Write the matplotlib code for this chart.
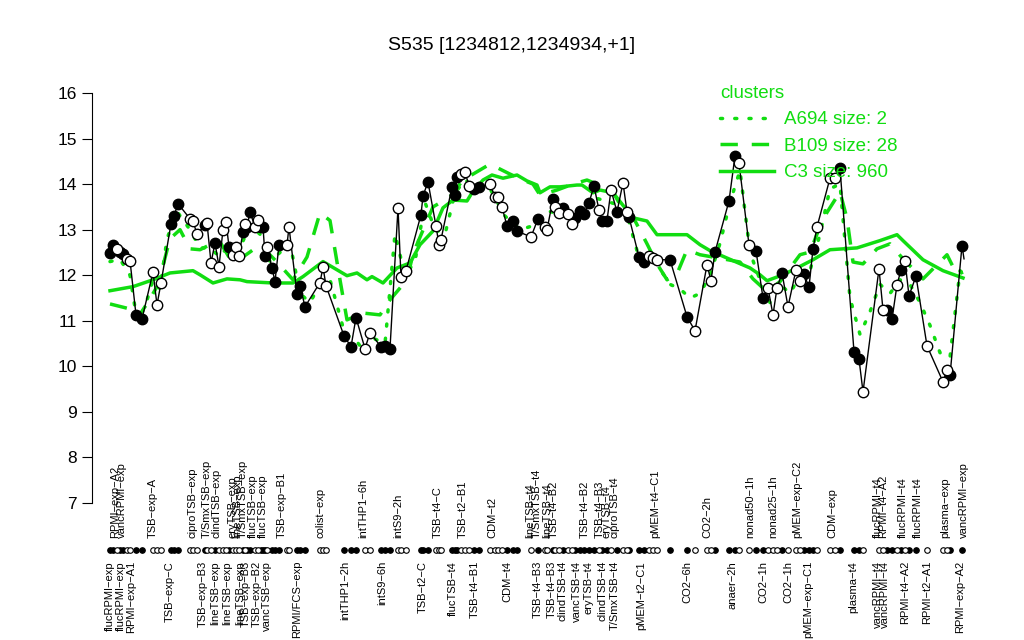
import matplotlib
matplotlib.use("Agg")
import matplotlib.pyplot as plt
from matplotlib.lines import Line2D

plt.rcParams['font.family'] = ['Liberation Sans', 'DejaVu Sans']

title = "S535 [1234812,1234934,+1]"
green = '#11dd11'

# sample positions along the x axis, expression values and whether the sample is filled
pos = [110, 113, 117, 120, 123, 127, 130, 136, 142, 153, 157, 161, 171, 174, 178, 190, 193, 197,
       205, 207, 211, 215, 219, 223, 226, 229, 233, 236, 239, 243, 245, 247, 250, 255, 258, 261,
       263, 265, 267, 272, 275, 279, 287, 289, 297, 300, 305, 320, 323, 326, 344, 351, 356, 365,
       370, 381, 385, 390, 398, 401, 406, 421, 423, 428, 436, 439, 441, 452, 455, 457, 461, 465,
       469, 474, 479, 490, 495, 498, 502, 507, 513, 517, 531, 538, 545, 547, 553, 555, 559, 563,
       568, 572, 575, 580, 584, 589, 594, 599, 602, 607, 611, 617, 623, 627, 629, 639, 644, 649,
       653, 657, 670, 687, 695, 707, 711, 715, 729, 735, 739, 749, 756, 763, 768, 773, 777, 782,
       788, 796, 800, 804, 809, 813, 817, 830, 835, 840, 854, 859, 863, 879, 883, 887, 892, 897,
       901, 905, 909, 916, 927, 943, 947, 950, 962, 964]
expr = [12.49, 12.67, 12.58, 12.50, 12.47, 12.36, 12.32, 11.13, 11.04, 12.07, 11.35, 11.83, 13.13,
        13.30, 13.57, 13.24, 13.19, 12.90, 13.10, 13.15, 12.27, 12.71, 12.19, 13.00, 13.17, 12.63,
        12.45, 12.63, 12.43, 12.95, 13.13, 13.06, 13.39, 13.06, 13.21, 13.06, 13.06, 12.43, 12.63,
        12.16, 11.86, 12.67, 12.67, 13.06, 11.59, 11.77, 11.31, 11.84, 12.18, 11.77, 10.67, 10.43,
        11.07, 10.39, 10.74, 10.43, 10.45, 10.39, 13.48, 11.96, 12.10, 13.33, 13.74, 14.05, 13.08,
        12.67, 12.78, 13.94, 13.76, 14.16, 14.22, 14.27, 13.96, 13.90, 13.94, 14.00, 13.72, 13.72,
        13.50, 13.08, 13.19, 12.97, 12.84, 13.24, 13.06, 13.00, 13.67, 13.50, 13.37, 13.48, 13.35,
        13.13, 13.26, 13.40, 13.35, 13.59, 13.96, 13.43, 13.20, 13.20, 13.87, 13.39, 14.03, 13.39,
        13.28, 12.40, 12.30, 12.43, 12.38, 12.34, 12.34, 11.09, 10.78, 12.23, 11.88, 12.51, 13.63,
        14.62, 14.46, 12.67, 12.54, 11.50, 11.72, 11.13, 11.72, 12.05, 11.31, 12.12, 11.88, 12.02,
        11.74, 12.58, 13.06, 14.13, 14.13, 14.35, 10.32, 10.16, 9.44, 12.14, 11.24, 11.24, 11.03,
        11.79, 12.12, 12.31, 11.55, 11.98, 10.45, 9.66, 9.92, 9.80, 12.65, 12.36]
filled = "FFOFFOOFFOOOFFFOOOFOOFOOOFOOOFOFFOOFFFOFFFOOFFFOOOFFFOOFFFOOOFFFOOOFFFOOOFFOOOOFFFOFOOFOOFOOFFFFFOFFOFOOFFFOOOFFOOOFFFOOFFOOOFOOOFFFOOOFFFOOOFFOFOFFOOOFF"

# cluster profiles
a694_x = [110, 120, 130, 137, 145, 153, 160, 167, 177, 190, 200, 210, 220, 230, 240, 250, 260, 270,
          280, 290, 300, 310, 320, 330, 345, 355, 365, 375, 385, 395, 405, 415, 425, 435, 445, 455,
          465, 475, 490, 505, 520, 535, 550, 565, 580, 595, 610, 625, 640, 655, 670, 680, 690, 700,
          710, 720, 730, 740, 750, 760, 770, 780, 790, 800, 810, 820, 830, 840, 850, 860, 870, 880,
          890, 900, 910, 920, 930, 940, 950, 960, 965]
a694_y = [12.3, 12.35, 12.0, 11.0, 11.3, 11.9, 11.7, 12.8, 13.4, 13.0, 12.6, 12.6, 12.4, 12.7, 12.6,
          13.1, 12.9, 12.3, 12.5, 12.7, 11.6, 11.4, 11.8, 11.9, 10.7, 10.6, 10.3, 10.6, 10.5, 12.9,
          12.0, 12.3, 13.6, 13.0, 12.9, 13.8, 14.1, 13.9, 13.9, 13.3, 13.0, 13.1, 13.4, 13.3, 13.3,
          13.7, 13.6, 13.5, 12.3, 12.3, 11.8, 11.7, 11.5, 11.6, 12.0, 12.7, 13.6, 14.3, 12.5, 11.9,
          11.4, 11.8, 11.6, 12.0, 12.1, 12.9, 13.9, 14.0, 11.5, 10.7, 11.2, 11.8, 11.6, 11.9, 11.8,
          11.4, 10.9, 10.3, 10.2, 12.1, 12.0]
b109_x = [110, 130, 137, 150, 158, 170, 180, 190, 200, 210, 220, 233, 250, 260, 277, 293, 307, 320,
          330, 340, 347, 363, 380, 390, 407, 413, 423, 433, 450, 463, 480, 490, 510, 523, 533, 540,
          557, 573, 587, 597, 610, 623, 633, 647, 657, 667, 677, 687, 700, 723, 740, 753, 767, 780,
          800, 810, 823, 840, 847, 853, 863, 877, 890, 903, 923, 947, 957, 963]
b109_y = [11.37, 11.26, 11.04, 11.48, 11.79, 12.80, 13.00, 12.58, 12.56, 12.67, 12.73, 12.25, 12.51,
          12.67, 12.29, 11.90, 12.40, 13.37, 13.20, 11.90, 11.02, 11.17, 11.13, 11.46, 11.90, 12.47,
          12.99, 13.50, 13.72, 14.09, 14.31, 14.44, 14.22, 14.09, 14.00, 13.76, 13.87, 14.00, 14.09,
          14.00, 13.94, 13.44, 13.28, 12.69, 12.25, 11.90, 12.03, 12.56, 12.45, 12.36, 12.29, 11.92,
          11.64, 11.86, 12.45, 12.51, 13.24, 13.83, 13.24, 12.29, 12.25, 12.58, 12.69, 12.36, 11.92,
          12.45, 12.01, 12.07]
c3_x = [110, 133, 153, 170, 193, 200, 213, 227, 240, 247, 273, 293, 303, 323, 347, 357, 367, 372,
        383, 397, 410, 420, 433, 443, 453, 467, 472, 483, 492, 503, 517, 527, 537, 540, 550, 560,
        577, 582, 593, 600, 613, 633, 647, 657, 687, 700, 710, 733, 750, 760, 767, 783, 797, 813,
        830, 857, 880, 897, 903, 923, 943, 963]
c3_y = [11.66, 11.75, 11.90, 12.05, 12.10, 12.01, 11.83, 11.92, 11.90, 11.86, 11.83, 11.83, 11.97,
        12.30, 11.99, 12.05, 11.90, 11.97, 11.83, 12.16, 12.27, 12.67, 12.97, 13.48, 13.65, 13.63,
        13.81, 14.09, 14.20, 14.13, 14.20, 14.07, 13.98, 13.81, 13.94, 13.94, 13.98, 13.98, 13.81,
        13.87, 13.81, 13.26, 13.19, 12.89, 12.89, 12.67, 12.54, 12.32, 12.16, 12.01, 11.88, 12.01,
        12.16, 12.34, 12.56, 12.60, 12.76, 12.89, 12.76, 12.34, 12.10, 11.94]

top_labels = [(115, "RPMI\u2212exp\u2212A2"), (122, "vancRPMI\u2212exp"), (153, "TSB\u2212exp\u2212A"),
              (193, "ciproTSB\u2212exp"), (207, "T/SmxTSB\u2212exp"), (217, "clindTSB\u2212exp"),
              (232, "eryTSB\u2212exp"), (237, "lineTSB\u2212exp"), (243, "T/SmxTSB\u2212exp"),
              (253, "flucTSB\u2212exp"), (263, "flucTSB\u2212exp"), (282, "TSB\u2212exp\u2212B1"),
              (320, "colist\u2212exp"), (363, "intTHP1\u22126h"), (398, "intS9\u22122h"),
              (438, "TSB\u2212t4\u2212C"), (463, "TSB\u2212t2\u2212B1"), (492, "CDM\u2212t2"),
              (530, "lineTSB\u2212t4"), (537, "T/SmxTSB\u2212t4"), (547, "lineTSB\u2212t4"),
              (554, "TSB\u2212t4\u2212B2"), (585, "TSB\u2212t4\u2212B2"), (600, "TSB\u2212t4\u2212B3"),
              (607, "eryTSB\u2212t4"), (615, "ciproTSB\u2212t4"), (655, "pMEM\u2212t4\u2212C1"),
              (707, "CO2\u22122h"), (750, "nonad50\u22121h"), (773, "nonad25\u22121h"),
              (797, "pMEM\u2212exp\u2212C2"), (832, "CDM\u2212exp"), (878, "flucRPMI\u2212t4"),
              (883, "RPMI\u2212t4\u2212A2"), (903, "flucRPMI\u2212t4"), (918, "flucRPMI\u2212t4"),
              (945, "plasma\u2212exp"), (964, "vancRPMI\u2212exp")]
bottom_labels = [(110, "flucRPMI\u2212exp"), (121, "flucRPMI\u2212exp"), (131, "RPMI\u2212exp\u2212A1"),
                 (170, "TSB\u2212exp\u2212C"), (203, "TSB\u2212exp\u2212B3"), (215, "lineTSB\u2212exp"),
                 (227, "lineTSB\u2212exp"), (240, "lineTSB\u2212exp"), (246, "TSB\u2212exp\u2212B3"),
                 (257, "TSB\u2212exp\u2212B2"), (267, "vancTSB\u2212exp"), (297, "RPMI/FCS\u2212exp"),
                 (345, "intTHP1\u22122h"), (382, "intS9\u22126h"), (423, "TSB\u2212t2\u2212C"),
                 (453, "flucTSB\u2212t4"), (475, "TSB\u2212t4\u2212B1"), (507, "CDM\u2212t4"),
                 (538, "TSB\u2212t4\u2212B3"), (552, "TSB\u2212t4\u2212B3"), (563, "clindTSB\u2212t4"),
                 (577, "vancTSB\u2212t4"), (589, "eryTSB\u2212t4"), (603, "clindTSB\u2212t4"),
                 (615, "T/SmxTSB\u2212t4"), (641, "pMEM\u2212t2\u2212C1"), (687, "CO2\u22126h"),
                 (732, "anaer\u22122h"), (763, "CO2\u22121h"), (788, "CO2\u22121h"),
                 (808, "pMEM\u2212exp\u2212C1"), (853, "plasma\u2212t4"), (878, "vancRPMI\u2212t4"),
                 (885, "vancRPMI\u2212t4"), (905, "RPMI\u2212t4\u2212A2"), (927, "RPMI\u2212t2\u2212A1"),
                 (960, "RPMI\u2212exp\u2212A2")]

fig = plt.figure(figsize=(10.24, 6.4), dpi=100)
ax = fig.add_axes([0, 0, 1, 1])
# map the axes onto the canvas: y=16 at 93px from top, one unit = 45.56px
unit = 45.56
ax.set_xlim(0, 1024)
ax.set_ylim(16 - (640 - 93) / unit, 16 + 93 / unit)

for s in ['top', 'right', 'bottom']:
    ax.spines[s].set_visible(False)
ax.spines['left'].set_position(('data', 92))
ax.spines['left'].set_bounds(7, 16)
ax.set_yticks(range(7, 17))
ax.tick_params(axis='y', length=7, labelsize=12.5, pad=4)
ax.set_xticks([])

ax.plot(a694_x, a694_y, color=green, lw=2.5, ls=(0, (0.6, 3.5)), dash_capstyle='round', zorder=2)
ax.plot(b109_x, b109_y, color=green, lw=2.5, ls=(0, (5, 4)), zorder=2)
ax.plot(c3_x, c3_y, color=green, lw=2.5, zorder=2)

ax.plot(pos, expr, color='black', lw=1, zorder=3)
fx = [p for p, f in zip(pos, filled) if f == 'F']
fy = [v for v, f in zip(expr, filled) if f == 'F']
ox = [p for p, f in zip(pos, filled) if f == 'O']
oy = [v for v, f in zip(expr, filled) if f == 'O']
ax.plot(fx, fy, 'o', ms=7.5, mfc='black', mec='black', mew=1, ls='none', zorder=4)
ax.plot(ox, oy, 'o', ms=7.5, mfc='white', mec='black', mew=1, ls='none', zorder=4)

# sample strip below the axis
row = 16 - (550 - 93) / unit
ax.plot(fx, [row] * len(fx), 'o', ms=4, mfc='black', mec='black', mew=0.8, ls='none')
ax.plot(ox, [row] * len(ox), 'o', ms=4, mfc='white', mec='black', mew=0.8, ls='none')

ytop = 16 - (538 - 93) / unit
ybot = 16 - (561 - 93) / unit
for x, t in top_labels:
    ax.text(x, ytop, t, rotation=90, ha='center', va='bottom', fontsize=8)
for x, t in bottom_labels:
    ax.text(x, ybot, t, rotation=90, ha='center', va='top', fontsize=8)

ax.text(512, 16 + 48 / unit, title, ha='center', va='center', fontsize=14)

handles = [Line2D([], [], color=green, lw=2.5, ls=(0, (0.6, 3.5)), dash_capstyle='round'),
           Line2D([], [], color=green, lw=2.5, ls=(0, (5, 4))),
           Line2D([], [], color=green, lw=2.5)]
leg = ax.legend(handles, ["A694 size: 2", "B109 size: 28", "C3 size: 960"], title="clusters",
                loc='upper left', bbox_to_anchor=(703 / 1024, 1 - 68 / 640), frameon=False,
                fontsize=13.5, title_fontsize=13.5, labelcolor=green, handlelength=2.9,
                handletextpad=0.5, labelspacing=0.5, alignment='left')
leg.get_title().set_color(green)

fig.savefig("out.png", dpi=100)
